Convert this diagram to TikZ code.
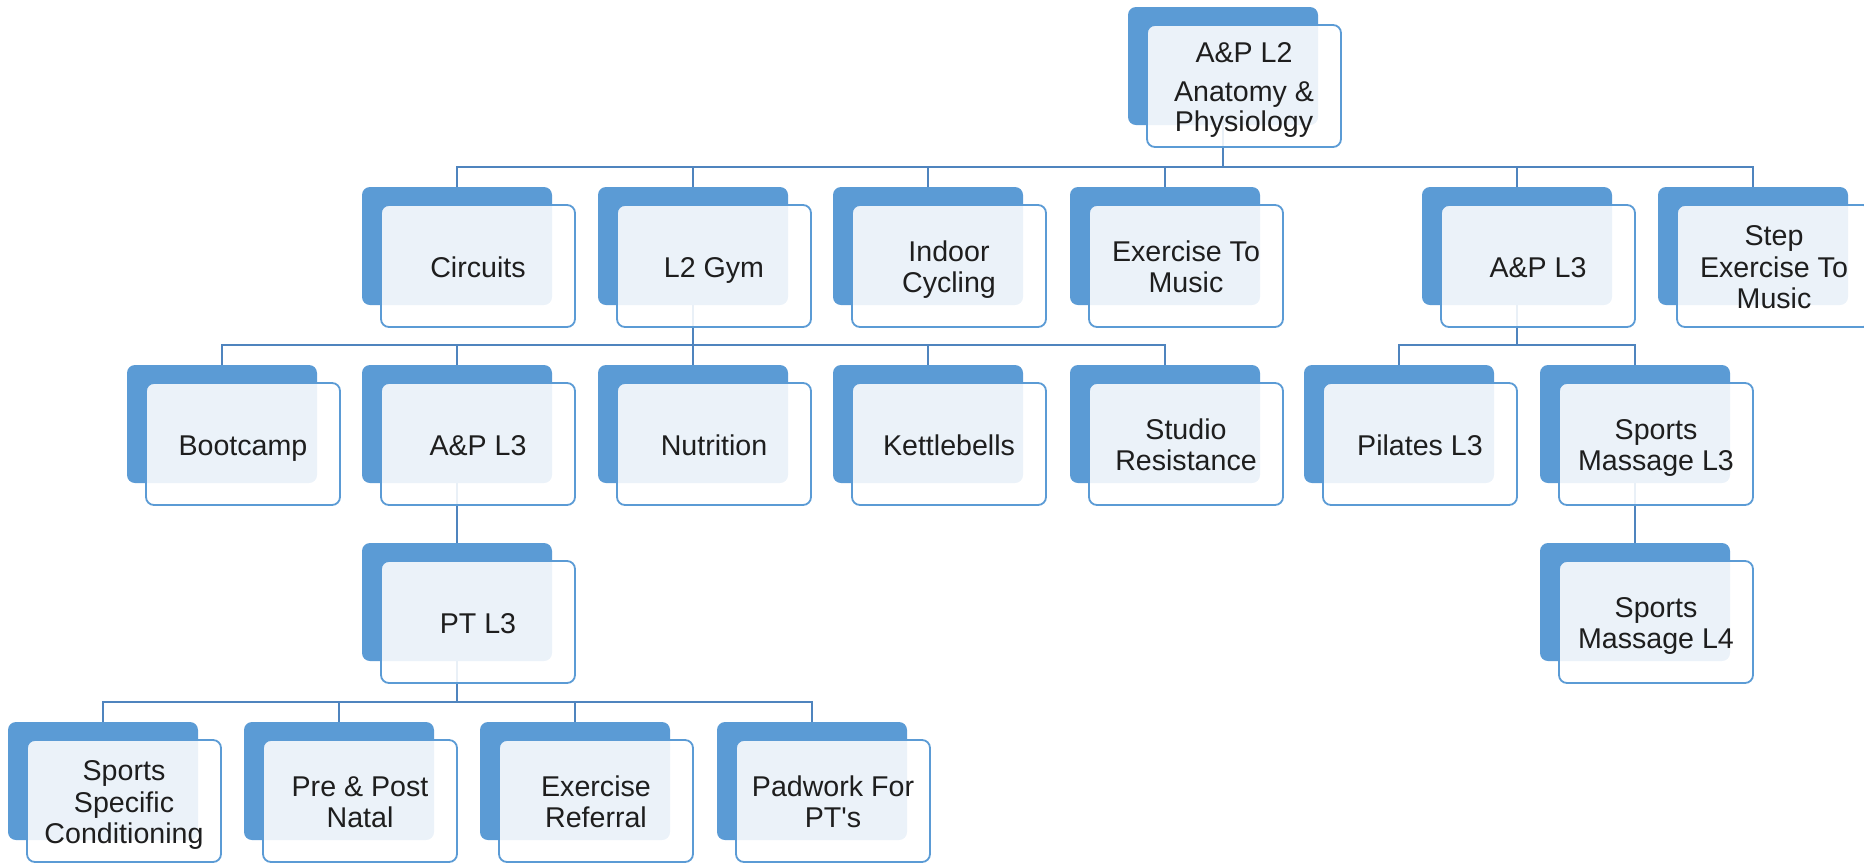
\documentclass[tikz,border=0pt]{standalone}
\usepackage{fontspec}
\setmainfont{Liberation Sans}
\usetikzlibrary{calc}
\definecolor{boxblue}{HTML}{5B9BD5}
\definecolor{linkblue}{HTML}{4F84BE}
\definecolor{txtgray}{HTML}{1E1E1E}

\begin{document}
\begin{tikzpicture}[x=0.5pt, y=-0.5pt,
	backbox/.style={fill=boxblue, rounded corners=4pt, minimum width=95pt, minimum height=59pt,
		inner sep=0pt, outer sep=0pt, anchor=north west},
	frontbox/.style={draw=boxblue, line width=0.9pt, fill=white, fill opacity=0.88, text opacity=1,
		rounded corners=4pt, minimum width=97pt, minimum height=61pt, inner sep=0pt, outer sep=0pt,
		anchor=north west, align=center, font=\fontsize{14.3}{15.8}\selectfont, text=txtgray},
	link/.style={draw=linkblue, line width=1pt}]
	\useasboundingbox (0,0) rectangle (1864,864);
	
	% 后面的蓝色方块
	\foreach \nm/\px/\py in {ap2/1128/7,
		circ/362/187, gym/598/187, cyc/833/187, etm/1070/187, apthree/1422/187, step/1658/187,
		boot/127/365, apl3/362/365, nutr/598/365, kettle/833/365, studio/1070/365,
		pil/1304/365, smthree/1540/365,
		pt/362/543, smfour/1540/543,
		ssc/8/722, prepost/244/722, refer/480/722, pad/717/722}
	\node[backbox] (\nm) at (\px,\py) {};
	
	% 连线
	\coordinate (bus1) at (0,167);
	\coordinate (bus2) at (0,345);
	\coordinate (bus4) at (0,702);
	\foreach \c in {circ,gym,cyc,etm,apthree,step}
	\draw[link] (ap2.south) -- (ap2.south |- bus1) -| (\c.north);
	\foreach \c in {boot,apl3,nutr,kettle,studio}
	\draw[link] (gym.south) -- (gym.south |- bus2) -| (\c.north);
	\foreach \c in {pil,smthree}
	\draw[link] (apthree.south) -- (apthree.south |- bus2) -| (\c.north);
	\draw[link] (apl3.south) -- (pt.north);
	\draw[link] (smthree.south) -- (smfour.north);
	\foreach \c in {ssc,prepost,refer,pad}
	\draw[link] (pt.south) -- (pt.south |- bus4) -| (\c.north);
	
	% 前面的文字方块
	\foreach \nm/\txt in {ap2/{A\&P L2\\[3.5pt]Anatomy \&\\[-0.6pt]Physiology},
		circ/Circuits, gym/L2 Gym, cyc/{Indoor\\Cycling}, etm/{Exercise To\\Music},
		apthree/A\&P L3, step/{Step\\Exercise To\\Music},
		boot/Bootcamp, apl3/A\&P L3, nutr/Nutrition, kettle/Kettlebells,
		studio/{Studio\\Resistance}, pil/Pilates L3, smthree/{Sports\\Massage L3},
		pt/PT L3, smfour/{Sports\\Massage L4},
		ssc/{Sports\\Specific\\Conditioning}, prepost/{Pre \& Post\\Natal},
		refer/{Exercise\\Referral}, pad/{Padwork For\\PT\textquotesingle s}}
	\node[frontbox] (f-\nm) at ($(\nm.north west)+(19,18)$)
	{\rule{0pt}{14pt}\txt\rule[-3pt]{0pt}{3pt}};
\end{tikzpicture}
\end{document}
